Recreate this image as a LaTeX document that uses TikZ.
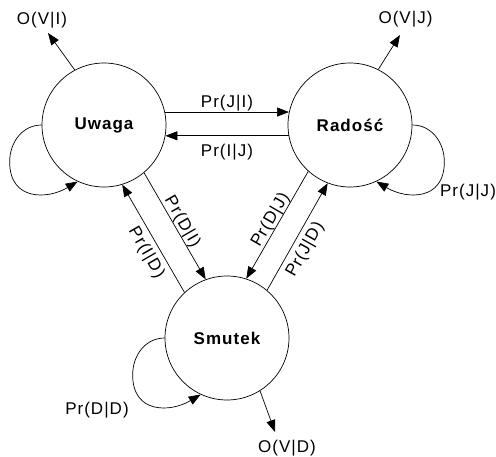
\documentclass[tikz,border=0pt]{standalone}
\usepackage{fontspec}
\setmainfont{Liberation Sans}[LetterSpace=6]
\usetikzlibrary{arrows.meta}
\begin{document}
\begin{tikzpicture}[x=1pt,y=1pt,
  every node/.style={font=\fontsize{17}{20}\selectfont},
  state/.style={circle, draw, line width=0.7pt, minimum size=124pt, inner sep=0pt, font=\fontsize{17}{20}\selectfont\bfseries},
  arr/.style={line width=0.7pt, -{Triangle[length=12pt,width=9pt]}},
  rarr/.style={line width=0.7pt, {Triangle[length=12pt,width=9pt]}-},
  lbl/.style={inner sep=0pt}]
\useasboundingbox (0,0) rectangle (496,456);
\node[state] (U) at (104,331) {Uwaga};
\node[state] (R) at (350,331) {Radość};
\node[state] (S) at (227,118) {Smutek};
% horizontal transitions
\draw[arr] (U.12) -- node[lbl, above=1pt] {Pr(J|I)} (R.168);
\draw[arr] (R.190) -- node[lbl, below=8pt] {Pr(I|J)} (U.-10);
% diagonal transitions
\draw[arr] (U.-50) -- node[lbl, pos=0.5, sloped, above=0pt] {Pr(D|I)} (S.110);
\draw[rarr] (U.-73) -- node[lbl, pos=0.57, sloped, below=5pt] {Pr(I|D)} (S.133);
\draw[rarr] (S.72) -- node[lbl, pos=0.51, sloped, above=0pt] {Pr(D|J)} (R.228);
\draw[arr] (S.50) -- node[lbl, pos=0.44, sloped, below=5pt] {Pr(J|D)} (R.249);
% self loops
\draw[arr] (U.180) .. controls +(-19,0) and +(0,20) .. ++(-32,-37) .. controls +(0,-39) and +(-30,-18) .. (U.245);
\draw[arr] (R.0) .. controls +(19,0) and +(0,20) .. ++(32,-37) .. controls +(0,-39) and +(30,-18) .. (R.295);
\draw[arr] (S.180) .. controls +(-19,0) and +(0,20) .. ++(-32,-37) .. controls +(0,-39) and +(-30,-18) .. (S.245);
\node (pjj) at (468,264) {Pr(J|J)};
\node (pdd) at (97,46) {Pr(D|D)};
% emissions
\coordinate (ui) at (48,423);
\draw[arr] (U.118) -- (ui);
\node (ovi) at (42,435.5) {O(V|I)};
\coordinate (rj) at (400,421);
\draw[arr] (R.63) -- (rj);
\node (ovj) at (405.5,436.5) {O(V|J)};
\coordinate (sd) at (275,24);
\draw[arr] (S.302) -- (sd);
\node (ovd) at (287,8) {O(V|D)};
\end{tikzpicture}
\end{document}
